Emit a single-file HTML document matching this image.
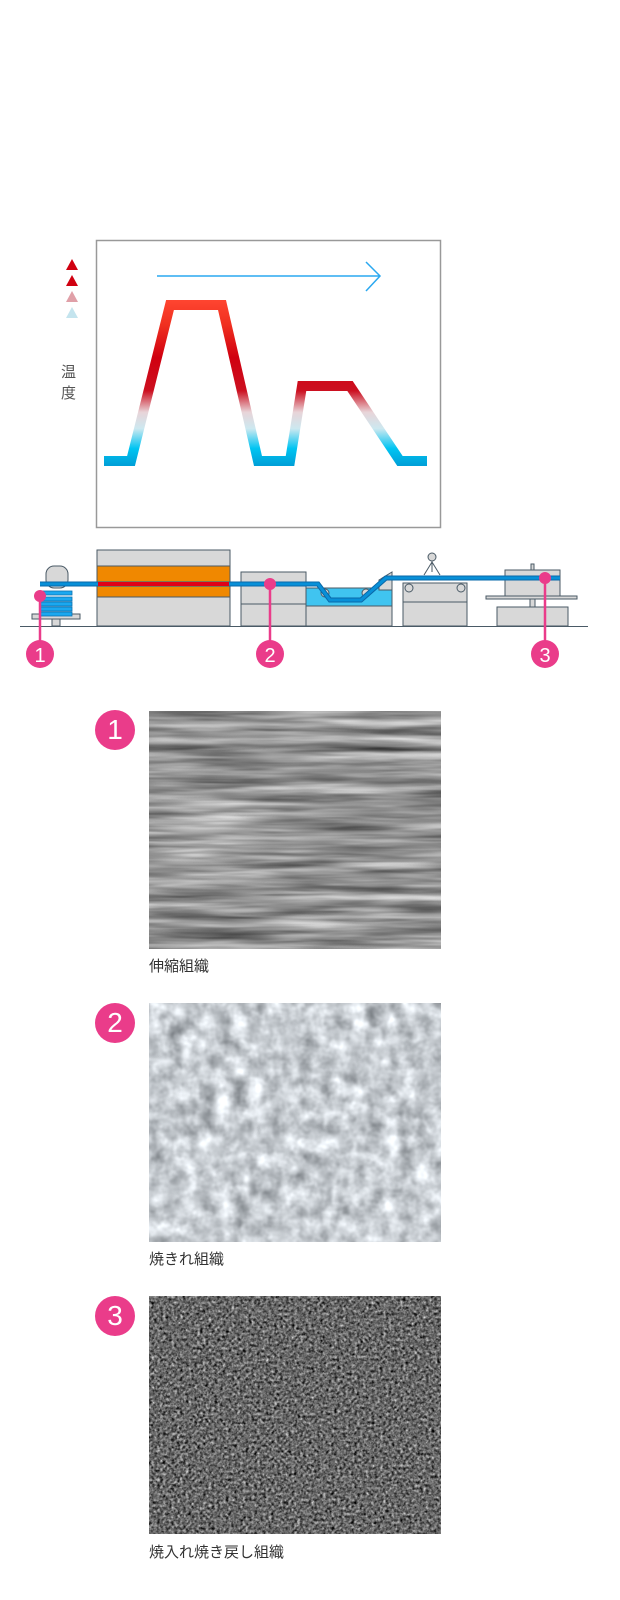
<!DOCTYPE html>
<html><head><meta charset="utf-8"><style>
body{margin:0;background:#fff;font-family:"Liberation Sans","Noto Sans CJK JP",sans-serif}
.cap{position:absolute;left:149px;font-size:15px;color:#333}
.num{position:absolute;width:40px;height:40px;border-radius:50%;background:#ea3c8a;color:#fff;font-size:28px;text-align:center;line-height:40px}
filter{color-interpolation-filters:sRGB}
</style></head><body>
<div style="position:relative;width:620px;height:1600px;overflow:hidden">
<svg width="620" height="680" style="position:absolute;left:0;top:0">
<defs>
<linearGradient id="g" gradientUnits="userSpaceOnUse" x1="0" y1="300" x2="0" y2="465">
<stop offset="0" stop-color="#ff4530"/><stop offset="0.15" stop-color="#f03020"/><stop offset="0.35" stop-color="#d00010"/>
<stop offset="0.55" stop-color="#cc1020"/><stop offset="0.68" stop-color="#e8d4d8"/><stop offset="0.78" stop-color="#cce8f0"/>
<stop offset="0.9" stop-color="#00c4f2"/><stop offset="1" stop-color="#00a0d8"/></linearGradient>
</defs>
<rect x="96.5" y="240.5" width="344" height="287" fill="#fff" stroke="#999" stroke-width="1.5"/>
<polygon points="72,259 78,270 66,270" fill="#d00010"/>
<polygon points="72,275 78,286 66,286" fill="#d00010"/>
<polygon points="72,291 78,302 66,302" fill="#e0a0a8"/>
<polygon points="72,307 78,318 66,318" fill="#c4e4ee"/>
<text x="61" y="377" font-size="15" fill="#555" font-family="Noto Sans CJK JP">温</text>
<text x="61" y="398" font-size="15" fill="#555" font-family="Noto Sans CJK JP">度</text>
<line x1="157" y1="276" x2="380" y2="276" stroke="#2aa8f0" stroke-width="1.5"/>
<polyline points="366,262 380,276 366,291" fill="none" stroke="#2aa8f0" stroke-width="1.5"/>
<polyline points="104,461 131,461 170,305 222,305 258,461 290,461 302,386 350,386 400,461 427,461" fill="none" stroke="url(#g)" stroke-width="10" stroke-linejoin="miter"/>
<g stroke="#4a5a66" stroke-width="1" fill="#d8d8d8">
<line x1="20" y1="626.5" x2="588" y2="626.5" stroke="#4a5a66"/>
<rect x="46" y="566" width="22" height="22" rx="8"/>
<rect x="32" y="614" width="48" height="5"/>
<rect x="52" y="619" width="8" height="7"/>
<rect x="97" y="550" width="133" height="76"/>
<rect x="97" y="566" width="133" height="31" fill="#f08800"/>
<rect x="241" y="572" width="65" height="54"/><line x1="241" y1="604" x2="306" y2="604"/>
<rect x="306" y="588" width="86" height="38"/><rect x="306" y="588" width="86" height="18" fill="#40c4f0"/>
<polygon points="379,580 392,572 392,590 379,590"/>
<rect x="403" y="583" width="64" height="43"/><line x1="403" y1="602" x2="467" y2="602"/>
<line x1="432" y1="560" x2="432" y2="572"/><line x1="432" y1="562" x2="424" y2="575"/><line x1="432" y1="562" x2="440" y2="575"/><circle cx="432" cy="557" r="4"/>
<rect x="505" y="570" width="55" height="26"/><rect x="531" y="564" width="3" height="6"/>
<rect x="486" y="596" width="91" height="3"/><rect x="530" y="599" width="5" height="8"/>
<rect x="497" y="607" width="71" height="19"/>
<circle cx="325" cy="593" r="4"/><circle cx="366" cy="593" r="4"/>
<circle cx="409" cy="588" r="4"/><circle cx="461" cy="588" r="4"/>
</g>
<g fill="#1aa8f0" stroke="#0a70b0" stroke-width="0.8">
<rect x="40" y="597" width="32" height="4"/><rect x="40" y="602" width="32" height="4"/><rect x="40" y="607" width="32" height="4"/><rect x="40" y="612" width="32" height="4"/><rect x="40" y="591" width="32" height="4"/>
</g>
<polyline points="40,584 306,584 318,584 330,600 361,600 386,578 560,578" fill="none" stroke="#0a68a8" stroke-width="5"/>
<polyline points="40,584 306,584 318,584 330,600 361,600 386,578 560,578" fill="none" stroke="#0890d8" stroke-width="3"/>
<line x1="98" y1="584" x2="229" y2="584" stroke="#e00018" stroke-width="4"/>
<g stroke="#ea3c8a" stroke-width="2.5"><line x1="40" y1="596" x2="40" y2="645"/><line x1="270" y1="584" x2="270" y2="645"/><line x1="545" y1="578" x2="545" y2="645"/></g>
<g fill="#ea3c8a"><circle cx="40" cy="596" r="6"/><circle cx="270" cy="584" r="6"/><circle cx="545" cy="578" r="6"/>
<circle cx="40" cy="654" r="14"/><circle cx="270" cy="654" r="14"/><circle cx="545" cy="654" r="14"/></g>
<g fill="#fff" font-size="20" text-anchor="middle"><text x="40" y="662">1</text><text x="270" y="662">2</text><text x="545" y="662">3</text></g>
</svg>
<div class="num" style="left:95px;top:710px">1</div>
<div class="num" style="left:95px;top:1003px">2</div>
<div class="num" style="left:95px;top:1296px">3</div>
<svg width="292" height="238" style="position:absolute;left:149px;top:711px">
<filter id="f1" color-interpolation-filters="sRGB"><feTurbulence type="fractalNoise" baseFrequency="0.008 0.12" numOctaves="3" seed="2"/><feColorMatrix type="matrix" values="0.45 0.45 0.45 0 -0.1 0.45 0.45 0.45 0 -0.1 0.45 0.45 0.45 0 -0.1 0 0 0 0 1"/></filter>
<rect width="292" height="238" filter="url(#f1)"/></svg>
<svg width="292" height="239" style="position:absolute;left:149px;top:1003px">
<filter id="f2" color-interpolation-filters="sRGB"><feTurbulence type="fractalNoise" baseFrequency="0.06" numOctaves="3" seed="5"/><feColorMatrix type="matrix" values="0.4 0.4 0.4 0 0.18 0.4 0.4 0.4 0 0.2 0.4 0.4 0.4 0 0.22 0 0 0 0 1"/></filter>
<rect width="292" height="239" filter="url(#f2)"/></svg>
<svg width="292" height="238" style="position:absolute;left:149px;top:1296px">
<filter id="f3" color-interpolation-filters="sRGB"><feTurbulence type="fractalNoise" baseFrequency="0.35" numOctaves="2" seed="7"/><feColorMatrix type="matrix" values="0.6 0.6 0.6 0 -0.5 0.6 0.6 0.6 0 -0.5 0.6 0.6 0.6 0 -0.5 0 0 0 0 1"/></filter>
<rect width="292" height="238" filter="url(#f3)"/></svg>
<div class="cap" style="top:955px">伸縮組織</div>
<div class="cap" style="top:1248px">焼きれ組織</div>
<div class="cap" style="top:1541px">焼入れ焼き戻し組織</div>
</div>
</body></html>
